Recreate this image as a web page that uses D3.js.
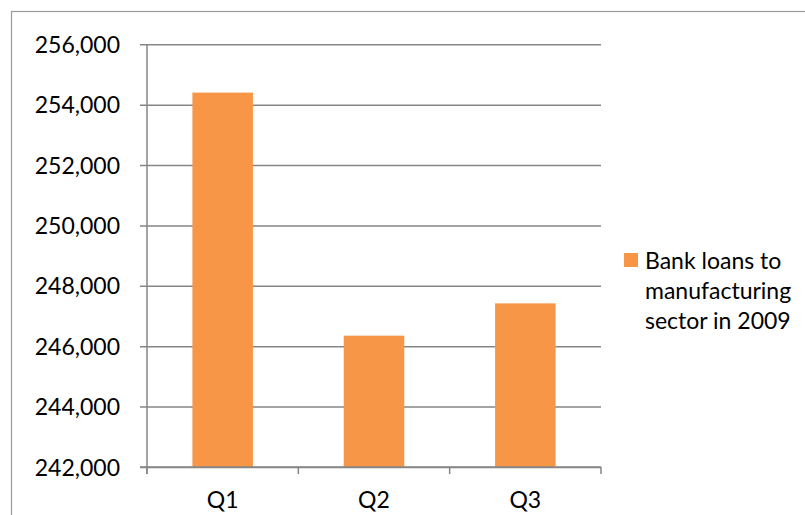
<!DOCTYPE html>
<html>
<head>
<meta charset="utf-8">
<script src="https://cdn.jsdelivr.net/npm/d3@7"></script>
<style>
  body { margin: 0; background: #fff; }
  text { font-family: Lato, "Open Sans", sans-serif; fill: #000; }
</style>
</head>
<body>
<svg id="chart" width="805" height="515"></svg>
<script>
var categories = ["Q1", "Q2", "Q3"];
var loans = [254400, 246350, 247420];
var yTicks = [242000, 244000, 246000, 248000, 250000, 252000, 254000, 256000];
var seriesName = ["Bank loans to", "manufacturing", "sector in 2009"];

var WIDTH = 805, HEIGHT = 515;
var plotLeft = 147, plotRight = 601, plotTop = 44.3, plotBottom = 467;
var BAR_COLOR = "#f79646";
var GRID_COLOR = "#868686";

var svg = d3.select("#chart");

// outer chart frame (runs past right and bottom edges)
svg.append("rect")
  .attr("x", 11.5).attr("y", 11.5)
  .attr("width", WIDTH + 20).attr("height", HEIGHT + 20)
  .attr("fill", "none")
  .attr("stroke", "#9a9a9a")
  .attr("stroke-width", 1.2);

var x = d3.scaleBand()
  .domain(categories)
  .range([plotLeft, plotRight])
  .paddingInner(0.6)
  .paddingOuter(0.3);

var y = d3.scaleLinear()
  .domain([242000, 256000])
  .range([plotBottom, plotTop]);

// gridlines + y ticks
var yAxis = d3.axisLeft(y)
  .tickValues(yTicks)
  .tickSize(-(plotRight - plotLeft))
  .tickFormat(d3.format(","));

var gy = svg.append("g")
  .attr("transform", "translate(" + plotLeft + ",0)")
  .call(yAxis);
gy.select(".domain").remove();
gy.selectAll(".tick line")
  .attr("stroke", GRID_COLOR)
  .attr("stroke-width", 1.5)
  .attr("x1", -7);
gy.selectAll(".tick text")
  .attr("x", -27)
  .attr("dy", "0.35em")
  .style("font-size", "23px")
  .style("font-family", "Lato, sans-serif")
  .attr("fill", "#000");

// bars
svg.append("g").selectAll("rect")
  .data(loans)
  .enter()
  .append("rect")
  .attr("x", function(d, i) { return x(categories[i]); })
  .attr("y", function(d) { return y(d); })
  .attr("width", x.bandwidth())
  .attr("height", function(d) { return plotBottom - y(d); })
  .attr("fill", BAR_COLOR);

// axis lines drawn on top of bars
svg.append("line")
  .attr("x1", plotLeft).attr("x2", plotLeft)
  .attr("y1", plotTop).attr("y2", plotBottom + 7)
  .attr("stroke", GRID_COLOR).attr("stroke-width", 1.5);
svg.append("line")
  .attr("x1", plotLeft - 7).attr("x2", plotRight)
  .attr("y1", plotBottom).attr("y2", plotBottom)
  .attr("stroke", GRID_COLOR).attr("stroke-width", 1.5);

// x category ticks at band edges
var step = (plotRight - plotLeft) / categories.length;
svg.append("g").selectAll("line")
  .data(d3.range(categories.length + 1))
  .enter()
  .append("line")
  .attr("x1", function(d) { return plotLeft + d * step; })
  .attr("x2", function(d) { return plotLeft + d * step; })
  .attr("y1", plotBottom)
  .attr("y2", plotBottom + 7)
  .attr("stroke", GRID_COLOR).attr("stroke-width", 1.5);

svg.append("g").selectAll("text")
  .data(categories)
  .enter()
  .append("text")
  .attr("x", function(d) { return x(d) + x.bandwidth() / 2; })
  .attr("y", 508)
  .attr("text-anchor", "middle")
  .style("font-size", "23px")
  .text(function(d) { return d; });

// legend
svg.append("rect")
  .attr("x", 624).attr("y", 253)
  .attr("width", 14).attr("height", 14)
  .attr("fill", BAR_COLOR);

svg.append("g").selectAll("text")
  .data(seriesName)
  .enter()
  .append("text")
  .attr("x", 645)
  .attr("y", function(d, i) { return 269 + i * 30; })
  .style("font-size", "23px")
  .text(function(d) { return d; });
</script>
</body>
</html>
